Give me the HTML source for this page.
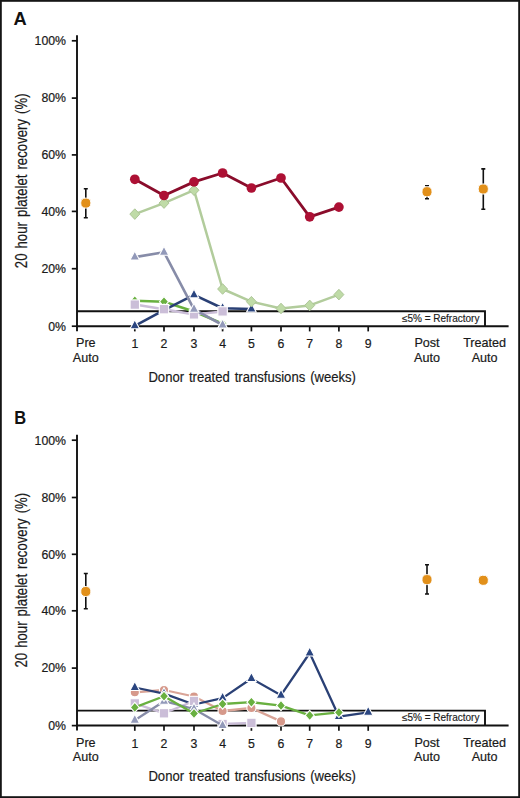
<!DOCTYPE html>
<html><head><meta charset="utf-8"><style>
html,body{margin:0;padding:0;background:#fff;}
body{width:520px;height:798px;overflow:hidden;font-family:"Liberation Sans", sans-serif;}
svg{display:block;}
</style></head><body>
<svg width="520" height="798" viewBox="0 0 520 798">
<rect x="0" y="0" width="520" height="798" fill="#fff"/>
<text x="13.4" y="24.8" font-size="18.3" font-weight="bold" font-family='"Liberation Sans", sans-serif' fill="#111">A</text><path d="M77.0 35.3V331.2" stroke="#111" stroke-width="1.9"/><path d="M71.8 40.8H77.0" stroke="#111" stroke-width="1.7"/><text x="66.0" y="45.1" font-size="12.3" text-anchor="end" font-family='"Liberation Sans", sans-serif' fill="#1a1a1a" stroke="#1a1a1a" stroke-width="0.2">100%</text><path d="M71.8 98.1H77.0" stroke="#111" stroke-width="1.7"/><text x="66.0" y="102.4" font-size="12.3" text-anchor="end" font-family='"Liberation Sans", sans-serif' fill="#1a1a1a" stroke="#1a1a1a" stroke-width="0.2">80%</text><path d="M71.8 154.9H77.0" stroke="#111" stroke-width="1.7"/><text x="66.0" y="159.2" font-size="12.3" text-anchor="end" font-family='"Liberation Sans", sans-serif' fill="#1a1a1a" stroke="#1a1a1a" stroke-width="0.2">60%</text><path d="M71.8 211.4H77.0" stroke="#111" stroke-width="1.7"/><text x="66.0" y="215.7" font-size="12.3" text-anchor="end" font-family='"Liberation Sans", sans-serif' fill="#1a1a1a" stroke="#1a1a1a" stroke-width="0.2">40%</text><path d="M71.8 268.7H77.0" stroke="#111" stroke-width="1.7"/><text x="66.0" y="273.0" font-size="12.3" text-anchor="end" font-family='"Liberation Sans", sans-serif' fill="#1a1a1a" stroke="#1a1a1a" stroke-width="0.2">20%</text><path d="M71.8 326.2H77.0" stroke="#111" stroke-width="1.7"/><text x="66.0" y="330.5" font-size="12.3" text-anchor="end" font-family='"Liberation Sans", sans-serif' fill="#1a1a1a" stroke="#1a1a1a" stroke-width="0.2">0%</text><path d="M76.0 326.2H508.6" stroke="#111" stroke-width="2"/><path d="M134.8 326.2V331.4" stroke="#111" stroke-width="1.7"/><text x="134.8" y="348.2" font-size="12.3" text-anchor="middle" font-family='"Liberation Sans", sans-serif' fill="#1a1a1a" stroke="#1a1a1a" stroke-width="0.2">1</text><path d="M164.0 326.2V331.4" stroke="#111" stroke-width="1.7"/><text x="164.0" y="348.2" font-size="12.3" text-anchor="middle" font-family='"Liberation Sans", sans-serif' fill="#1a1a1a" stroke="#1a1a1a" stroke-width="0.2">2</text><path d="M194.0 326.2V331.4" stroke="#111" stroke-width="1.7"/><text x="194.0" y="348.2" font-size="12.3" text-anchor="middle" font-family='"Liberation Sans", sans-serif' fill="#1a1a1a" stroke="#1a1a1a" stroke-width="0.2">3</text><path d="M222.6 326.2V331.4" stroke="#111" stroke-width="1.7"/><text x="222.6" y="348.2" font-size="12.3" text-anchor="middle" font-family='"Liberation Sans", sans-serif' fill="#1a1a1a" stroke="#1a1a1a" stroke-width="0.2">4</text><path d="M251.4 326.2V331.4" stroke="#111" stroke-width="1.7"/><text x="251.4" y="348.2" font-size="12.3" text-anchor="middle" font-family='"Liberation Sans", sans-serif' fill="#1a1a1a" stroke="#1a1a1a" stroke-width="0.2">5</text><path d="M281.0 326.2V331.4" stroke="#111" stroke-width="1.7"/><text x="281.0" y="348.2" font-size="12.3" text-anchor="middle" font-family='"Liberation Sans", sans-serif' fill="#1a1a1a" stroke="#1a1a1a" stroke-width="0.2">6</text><path d="M309.7 326.2V331.4" stroke="#111" stroke-width="1.7"/><text x="309.7" y="348.2" font-size="12.3" text-anchor="middle" font-family='"Liberation Sans", sans-serif' fill="#1a1a1a" stroke="#1a1a1a" stroke-width="0.2">7</text><path d="M338.9 326.2V331.4" stroke="#111" stroke-width="1.7"/><text x="338.9" y="348.2" font-size="12.3" text-anchor="middle" font-family='"Liberation Sans", sans-serif' fill="#1a1a1a" stroke="#1a1a1a" stroke-width="0.2">8</text><path d="M368.2 326.2V331.4" stroke="#111" stroke-width="1.7"/><text x="368.2" y="348.2" font-size="12.3" text-anchor="middle" font-family='"Liberation Sans", sans-serif' fill="#1a1a1a" stroke="#1a1a1a" stroke-width="0.2">9</text><text x="85.8" y="347.2" font-size="12.6" text-anchor="middle" font-family='"Liberation Sans", sans-serif' fill="#1a1a1a" stroke="#1a1a1a" stroke-width="0.2">Pre</text><text x="85.8" y="361.6" font-size="12.6" text-anchor="middle" font-family='"Liberation Sans", sans-serif' fill="#1a1a1a" stroke="#1a1a1a" stroke-width="0.2">Auto</text><text x="427.0" y="347.2" font-size="12.6" text-anchor="middle" font-family='"Liberation Sans", sans-serif' fill="#1a1a1a" stroke="#1a1a1a" stroke-width="0.2">Post</text><text x="427.0" y="361.6" font-size="12.6" text-anchor="middle" font-family='"Liberation Sans", sans-serif' fill="#1a1a1a" stroke="#1a1a1a" stroke-width="0.2">Auto</text><text x="484.6" y="347.2" font-size="12.6" text-anchor="middle" font-family='"Liberation Sans", sans-serif' fill="#1a1a1a" stroke="#1a1a1a" stroke-width="0.2">Treated</text><text x="484.6" y="361.6" font-size="12.6" text-anchor="middle" font-family='"Liberation Sans", sans-serif' fill="#1a1a1a" stroke="#1a1a1a" stroke-width="0.2">Auto</text><path d="M77.0 311.2H485.0V326.2" stroke="#111" stroke-width="1.9" fill="none"/><text x="479.4" y="321.6" font-size="10" text-anchor="end" font-family='"Liberation Sans", sans-serif' fill="#1a1a1a" stroke="#1a1a1a" stroke-width="0.15">≤5% = Refractory</text><text x="252.2" y="381.7" font-size="15.4" text-anchor="middle" font-family='"Liberation Sans", sans-serif' fill="#1a1a1a" stroke="#1a1a1a" stroke-width="0.2" word-spacing="1.5" transform="translate(252.2 0) scale(0.851 1) translate(-252.2 0)">Donor treated transfusions (weeks)</text><text x="0" y="0" font-size="15.6" text-anchor="middle" font-family='"Liberation Sans", sans-serif' fill="#1a1a1a" stroke="#1a1a1a" stroke-width="0.2" word-spacing="1.6" transform="translate(27.0 180.8) rotate(-90) scale(0.846 1)">20 hour platelet recovery (%)</text><polyline points="134.8,300.8 164.0,301.7 194.0,311.5 222.6,323.6" fill="none" stroke="#69b040" stroke-width="2.5" stroke-linejoin="round"/><path d="M134.8 295.7L139.3 300.8L134.8 305.9L130.3 300.8Z" fill="#69b040" stroke="#fff" stroke-width="1.1"/><path d="M164.0 296.6L168.5 301.7L164.0 306.8L159.5 301.7Z" fill="#69b040" stroke="#fff" stroke-width="1.1"/><path d="M194.0 306.4L198.5 311.5L194.0 316.6L189.5 311.5Z" fill="#69b040" stroke="#fff" stroke-width="1.1"/><path d="M222.6 318.5L227.1 323.6L222.6 328.7L218.1 323.6Z" fill="#69b040" stroke="#fff" stroke-width="1.1"/><polyline points="134.8,325.8 164.0,310.1 194.0,294.9 222.6,308.3 251.4,309.0" fill="none" stroke="#2a4075" stroke-width="2.6" stroke-linejoin="round"/><path d="M134.8 319.8L139.6 328.8L130.0 328.8Z" fill="#2a4580" stroke="#fff" stroke-width="1.1"/><path d="M164.0 304.1L168.8 313.1L159.2 313.1Z" fill="#2a4580" stroke="#fff" stroke-width="1.1"/><path d="M194.0 288.9L198.8 297.9L189.2 297.9Z" fill="#2a4580" stroke="#fff" stroke-width="1.1"/><path d="M222.6 302.3L227.4 311.3L217.8 311.3Z" fill="#2a4580" stroke="#fff" stroke-width="1.1"/><path d="M251.4 303.0L256.2 312.0L246.6 312.0Z" fill="#2a4580" stroke="#fff" stroke-width="1.1"/><polyline points="134.8,304.6 164.0,309.2 194.0,314.4 222.6,311.4" fill="none" stroke="#cbbed8" stroke-width="2.5" stroke-linejoin="round"/><rect x="130.1" y="299.9" width="9.4" height="9.4" fill="#cbbed8" stroke="#fff" stroke-width="1.1"/><rect x="159.3" y="304.5" width="9.4" height="9.4" fill="#cbbed8" stroke="#fff" stroke-width="1.1"/><rect x="189.3" y="309.7" width="9.4" height="9.4" fill="#cbbed8" stroke="#fff" stroke-width="1.1"/><rect x="217.9" y="306.7" width="9.4" height="9.4" fill="#cbbed8" stroke="#fff" stroke-width="1.1"/><polyline points="134.8,257.1 164.0,252.2 194.0,309.3 222.6,325.0" fill="none" stroke="#878ca8" stroke-width="2.6" stroke-linejoin="round"/><path d="M134.8 251.1L139.6 260.1L130.0 260.1Z" fill="#9299b9" stroke="#fff" stroke-width="1.1"/><path d="M164.0 246.2L168.8 255.2L159.2 255.2Z" fill="#9299b9" stroke="#fff" stroke-width="1.1"/><path d="M194.0 303.3L198.8 312.3L189.2 312.3Z" fill="#9299b9" stroke="#fff" stroke-width="1.1"/><path d="M222.6 319.0L227.4 328.0L217.8 328.0Z" fill="#9299b9" stroke="#fff" stroke-width="1.1"/><polyline points="134.8,214.1 164.0,203.1 194.0,190.2 222.6,289.0 251.4,301.7 281.0,308.5 309.7,305.4 338.9,294.6" fill="none" stroke="#b2cc9c" stroke-width="2.5" stroke-linejoin="round"/><path d="M134.8 208.8L139.8 214.1L134.8 219.4L129.8 214.1Z" fill="#bfdba7" stroke="#a8c292" stroke-width="0.9"/><path d="M164.0 197.8L169.0 203.1L164.0 208.4L159.0 203.1Z" fill="#bfdba7" stroke="#a8c292" stroke-width="0.9"/><path d="M194.0 184.9L199.0 190.2L194.0 195.5L189.0 190.2Z" fill="#bfdba7" stroke="#a8c292" stroke-width="0.9"/><path d="M222.6 283.7L227.6 289.0L222.6 294.3L217.6 289.0Z" fill="#bfdba7" stroke="#a8c292" stroke-width="0.9"/><path d="M251.4 296.4L256.4 301.7L251.4 307.0L246.4 301.7Z" fill="#bfdba7" stroke="#a8c292" stroke-width="0.9"/><path d="M281.0 303.2L286.0 308.5L281.0 313.8L276.0 308.5Z" fill="#bfdba7" stroke="#a8c292" stroke-width="0.9"/><path d="M309.7 300.1L314.7 305.4L309.7 310.7L304.7 305.4Z" fill="#bfdba7" stroke="#a8c292" stroke-width="0.9"/><path d="M338.9 289.3L343.9 294.6L338.9 299.9L333.9 294.6Z" fill="#bfdba7" stroke="#a8c292" stroke-width="0.9"/><polyline points="134.8,179.3 164.0,195.5 194.0,181.9 222.6,173.0 251.4,188.0 281.0,178.0 309.7,216.8 338.9,207.1" fill="none" stroke="#8a0c2b" stroke-width="2.8" stroke-linejoin="round"/><circle cx="134.8" cy="179.3" r="4.85" fill="#ad1034"/><circle cx="164.0" cy="195.5" r="4.85" fill="#ad1034"/><circle cx="194.0" cy="181.9" r="4.85" fill="#ad1034"/><circle cx="222.6" cy="173.0" r="4.85" fill="#ad1034"/><circle cx="251.4" cy="188.0" r="4.85" fill="#ad1034"/><circle cx="281.0" cy="178.0" r="4.85" fill="#ad1034"/><circle cx="309.7" cy="216.8" r="4.85" fill="#ad1034"/><circle cx="338.9" cy="207.1" r="4.85" fill="#ad1034"/><path d="M85.8 188.8V217.7M83.8 188.8H87.8M83.8 217.7H87.8" stroke="#111" stroke-width="1.6" fill="none"/><rect x="80.8" y="198.1" width="10.0" height="10.0" rx="4.3" fill="#E2901A" stroke="#fff" stroke-width="1"/><path d="M427.0 185.8V198.7M425.0 185.8H429.0M425.0 198.7H429.0" stroke="#111" stroke-width="1.6" fill="none"/><rect x="422.0" y="186.7" width="10.0" height="10.0" rx="4.3" fill="#E2901A" stroke="#fff" stroke-width="1"/><path d="M483.3 168.9V209.3M481.3 168.9H485.3M481.3 209.3H485.3" stroke="#111" stroke-width="1.6" fill="none"/><rect x="478.3" y="184.0" width="10.0" height="10.0" rx="4.3" fill="#E2901A" stroke="#fff" stroke-width="1"/>
<text x="0" y="0" font-size="18.3" font-weight="bold" font-family='"Liberation Sans", sans-serif' fill="#111" transform="translate(14.2 423.9) scale(0.9 1)">B</text><path d="M77.0 434.7V730.6" stroke="#111" stroke-width="1.9"/><path d="M71.8 440.2H77.0" stroke="#111" stroke-width="1.7"/><text x="66.0" y="444.5" font-size="12.3" text-anchor="end" font-family='"Liberation Sans", sans-serif' fill="#1a1a1a" stroke="#1a1a1a" stroke-width="0.2">100%</text><path d="M71.8 497.5H77.0" stroke="#111" stroke-width="1.7"/><text x="66.0" y="501.8" font-size="12.3" text-anchor="end" font-family='"Liberation Sans", sans-serif' fill="#1a1a1a" stroke="#1a1a1a" stroke-width="0.2">80%</text><path d="M71.8 554.3H77.0" stroke="#111" stroke-width="1.7"/><text x="66.0" y="558.6" font-size="12.3" text-anchor="end" font-family='"Liberation Sans", sans-serif' fill="#1a1a1a" stroke="#1a1a1a" stroke-width="0.2">60%</text><path d="M71.8 610.8H77.0" stroke="#111" stroke-width="1.7"/><text x="66.0" y="615.1" font-size="12.3" text-anchor="end" font-family='"Liberation Sans", sans-serif' fill="#1a1a1a" stroke="#1a1a1a" stroke-width="0.2">40%</text><path d="M71.8 668.1H77.0" stroke="#111" stroke-width="1.7"/><text x="66.0" y="672.4" font-size="12.3" text-anchor="end" font-family='"Liberation Sans", sans-serif' fill="#1a1a1a" stroke="#1a1a1a" stroke-width="0.2">20%</text><path d="M71.8 725.6H77.0" stroke="#111" stroke-width="1.7"/><text x="66.0" y="729.9" font-size="12.3" text-anchor="end" font-family='"Liberation Sans", sans-serif' fill="#1a1a1a" stroke="#1a1a1a" stroke-width="0.2">0%</text><path d="M76.0 725.6H508.6" stroke="#111" stroke-width="2"/><path d="M134.8 725.6V730.8" stroke="#111" stroke-width="1.7"/><text x="134.8" y="747.6" font-size="12.3" text-anchor="middle" font-family='"Liberation Sans", sans-serif' fill="#1a1a1a" stroke="#1a1a1a" stroke-width="0.2">1</text><path d="M164.0 725.6V730.8" stroke="#111" stroke-width="1.7"/><text x="164.0" y="747.6" font-size="12.3" text-anchor="middle" font-family='"Liberation Sans", sans-serif' fill="#1a1a1a" stroke="#1a1a1a" stroke-width="0.2">2</text><path d="M194.0 725.6V730.8" stroke="#111" stroke-width="1.7"/><text x="194.0" y="747.6" font-size="12.3" text-anchor="middle" font-family='"Liberation Sans", sans-serif' fill="#1a1a1a" stroke="#1a1a1a" stroke-width="0.2">3</text><path d="M222.6 725.6V730.8" stroke="#111" stroke-width="1.7"/><text x="222.6" y="747.6" font-size="12.3" text-anchor="middle" font-family='"Liberation Sans", sans-serif' fill="#1a1a1a" stroke="#1a1a1a" stroke-width="0.2">4</text><path d="M251.4 725.6V730.8" stroke="#111" stroke-width="1.7"/><text x="251.4" y="747.6" font-size="12.3" text-anchor="middle" font-family='"Liberation Sans", sans-serif' fill="#1a1a1a" stroke="#1a1a1a" stroke-width="0.2">5</text><path d="M281.0 725.6V730.8" stroke="#111" stroke-width="1.7"/><text x="281.0" y="747.6" font-size="12.3" text-anchor="middle" font-family='"Liberation Sans", sans-serif' fill="#1a1a1a" stroke="#1a1a1a" stroke-width="0.2">6</text><path d="M309.7 725.6V730.8" stroke="#111" stroke-width="1.7"/><text x="309.7" y="747.6" font-size="12.3" text-anchor="middle" font-family='"Liberation Sans", sans-serif' fill="#1a1a1a" stroke="#1a1a1a" stroke-width="0.2">7</text><path d="M338.9 725.6V730.8" stroke="#111" stroke-width="1.7"/><text x="338.9" y="747.6" font-size="12.3" text-anchor="middle" font-family='"Liberation Sans", sans-serif' fill="#1a1a1a" stroke="#1a1a1a" stroke-width="0.2">8</text><path d="M368.2 725.6V730.8" stroke="#111" stroke-width="1.7"/><text x="368.2" y="747.6" font-size="12.3" text-anchor="middle" font-family='"Liberation Sans", sans-serif' fill="#1a1a1a" stroke="#1a1a1a" stroke-width="0.2">9</text><text x="85.8" y="746.6" font-size="12.6" text-anchor="middle" font-family='"Liberation Sans", sans-serif' fill="#1a1a1a" stroke="#1a1a1a" stroke-width="0.2">Pre</text><text x="85.8" y="761.0" font-size="12.6" text-anchor="middle" font-family='"Liberation Sans", sans-serif' fill="#1a1a1a" stroke="#1a1a1a" stroke-width="0.2">Auto</text><text x="427.0" y="746.6" font-size="12.6" text-anchor="middle" font-family='"Liberation Sans", sans-serif' fill="#1a1a1a" stroke="#1a1a1a" stroke-width="0.2">Post</text><text x="427.0" y="761.0" font-size="12.6" text-anchor="middle" font-family='"Liberation Sans", sans-serif' fill="#1a1a1a" stroke="#1a1a1a" stroke-width="0.2">Auto</text><text x="484.6" y="746.6" font-size="12.6" text-anchor="middle" font-family='"Liberation Sans", sans-serif' fill="#1a1a1a" stroke="#1a1a1a" stroke-width="0.2">Treated</text><text x="484.6" y="761.0" font-size="12.6" text-anchor="middle" font-family='"Liberation Sans", sans-serif' fill="#1a1a1a" stroke="#1a1a1a" stroke-width="0.2">Auto</text><path d="M77.0 710.6H485.0V725.6" stroke="#111" stroke-width="1.9" fill="none"/><text x="479.4" y="721.0" font-size="10" text-anchor="end" font-family='"Liberation Sans", sans-serif' fill="#1a1a1a" stroke="#1a1a1a" stroke-width="0.15">≤5% = Refractory</text><text x="252.2" y="781.1" font-size="15.4" text-anchor="middle" font-family='"Liberation Sans", sans-serif' fill="#1a1a1a" stroke="#1a1a1a" stroke-width="0.2" word-spacing="1.5" transform="translate(252.2 0) scale(0.851 1) translate(-252.2 0)">Donor treated transfusions (weeks)</text><text x="0" y="0" font-size="15.6" text-anchor="middle" font-family='"Liberation Sans", sans-serif' fill="#1a1a1a" stroke="#1a1a1a" stroke-width="0.2" word-spacing="1.6" transform="translate(27.0 580.2) rotate(-90) scale(0.846 1)">20 hour platelet recovery (%)</text><polyline points="134.8,692.3 164.0,690.0 194.0,696.5 222.6,711.0 251.4,708.0 281.0,721.4" fill="none" stroke="#d9a497" stroke-width="2.3" stroke-linejoin="round"/><circle cx="134.8" cy="692.3" r="4.6" fill="#d6998b" stroke="#fff" stroke-width="1.1"/><circle cx="164.0" cy="690.0" r="4.6" fill="#d6998b" stroke="#fff" stroke-width="1.1"/><circle cx="194.0" cy="696.5" r="4.6" fill="#d6998b" stroke="#fff" stroke-width="1.1"/><circle cx="222.6" cy="711.0" r="4.6" fill="#d6998b" stroke="#fff" stroke-width="1.1"/><circle cx="251.4" cy="708.0" r="4.6" fill="#d6998b" stroke="#fff" stroke-width="1.1"/><circle cx="281.0" cy="721.4" r="4.6" fill="#d6998b" stroke="#fff" stroke-width="1.1"/><polyline points="134.8,687.5 164.0,693.7 194.0,704.5 222.6,698.1 251.4,678.5 281.0,695.2 309.7,653.0 338.9,716.6 368.2,712.3" fill="none" stroke="#2a4075" stroke-width="2.3" stroke-linejoin="round"/><path d="M134.8 681.5L139.6 690.5L130.0 690.5Z" fill="#2a4580" stroke="#fff" stroke-width="1.1"/><path d="M164.0 687.7L168.8 696.7L159.2 696.7Z" fill="#2a4580" stroke="#fff" stroke-width="1.1"/><path d="M194.0 698.5L198.8 707.5L189.2 707.5Z" fill="#2a4580" stroke="#fff" stroke-width="1.1"/><path d="M222.6 692.1L227.4 701.1L217.8 701.1Z" fill="#2a4580" stroke="#fff" stroke-width="1.1"/><path d="M251.4 672.5L256.2 681.5L246.6 681.5Z" fill="#2a4580" stroke="#fff" stroke-width="1.1"/><path d="M281.0 689.2L285.8 698.2L276.2 698.2Z" fill="#2a4580" stroke="#fff" stroke-width="1.1"/><path d="M309.7 647.0L314.5 656.0L304.9 656.0Z" fill="#2a4580" stroke="#fff" stroke-width="1.1"/><path d="M338.9 710.6L343.7 719.6L334.1 719.6Z" fill="#2a4580" stroke="#fff" stroke-width="1.1"/><path d="M368.2 706.3L373.0 715.3L363.4 715.3Z" fill="#2a4580" stroke="#fff" stroke-width="1.1"/><polyline points="134.8,703.4 164.0,713.3 194.0,701.0" fill="none" stroke="#cbbed8" stroke-width="2.3" stroke-linejoin="round"/><polyline points="222.6,724.0 251.4,722.9" fill="none" stroke="#cbbed8" stroke-width="2.3" stroke-linejoin="round"/><rect x="130.1" y="698.7" width="9.4" height="9.4" fill="#cbbed8" stroke="#fff" stroke-width="1.1"/><rect x="159.3" y="708.6" width="9.4" height="9.4" fill="#cbbed8" stroke="#fff" stroke-width="1.1"/><rect x="189.3" y="696.3" width="9.4" height="9.4" fill="#cbbed8" stroke="#fff" stroke-width="1.1"/><rect x="217.9" y="719.3" width="9.4" height="9.4" fill="#cbbed8" stroke="#fff" stroke-width="1.1"/><rect x="246.7" y="718.2" width="9.4" height="9.4" fill="#cbbed8" stroke="#fff" stroke-width="1.1"/><polyline points="134.8,720.3 164.0,701.2 194.0,709.0 222.6,725.5" fill="none" stroke="#878ca8" stroke-width="2.3" stroke-linejoin="round"/><path d="M134.8 714.3L139.6 723.3L130.0 723.3Z" fill="#9299b9" stroke="#fff" stroke-width="1.1"/><path d="M164.0 695.2L168.8 704.2L159.2 704.2Z" fill="#9299b9" stroke="#fff" stroke-width="1.1"/><path d="M194.0 703.0L198.8 712.0L189.2 712.0Z" fill="#9299b9" stroke="#fff" stroke-width="1.1"/><path d="M222.6 719.5L227.4 728.5L217.8 728.5Z" fill="#9299b9" stroke="#fff" stroke-width="1.1"/><polyline points="134.8,707.4 164.0,696.2 194.0,713.5 222.6,704.0 251.4,702.2 281.0,705.6 309.7,715.4 338.9,712.4" fill="none" stroke="#69b040" stroke-width="2.3" stroke-linejoin="round"/><path d="M134.8 702.3L139.3 707.4L134.8 712.5L130.3 707.4Z" fill="#69b040" stroke="#fff" stroke-width="1.1"/><path d="M164.0 691.1L168.5 696.2L164.0 701.3L159.5 696.2Z" fill="#69b040" stroke="#fff" stroke-width="1.1"/><path d="M194.0 708.4L198.5 713.5L194.0 718.6L189.5 713.5Z" fill="#69b040" stroke="#fff" stroke-width="1.1"/><path d="M222.6 698.9L227.1 704.0L222.6 709.1L218.1 704.0Z" fill="#69b040" stroke="#fff" stroke-width="1.1"/><path d="M251.4 697.1L255.9 702.2L251.4 707.3L246.9 702.2Z" fill="#69b040" stroke="#fff" stroke-width="1.1"/><path d="M281.0 700.5L285.5 705.6L281.0 710.7L276.5 705.6Z" fill="#69b040" stroke="#fff" stroke-width="1.1"/><path d="M309.7 710.3L314.2 715.4L309.7 720.5L305.2 715.4Z" fill="#69b040" stroke="#fff" stroke-width="1.1"/><path d="M338.9 707.3L343.4 712.4L338.9 717.5L334.4 712.4Z" fill="#69b040" stroke="#fff" stroke-width="1.1"/><path d="M85.8 573.5V608.7M83.8 573.5H87.8M83.8 608.7H87.8" stroke="#111" stroke-width="1.6" fill="none"/><rect x="80.8" y="586.5" width="10.0" height="10.0" rx="4.3" fill="#E2901A" stroke="#fff" stroke-width="1"/><path d="M427.0 564.8V594.0M425.0 564.8H429.0M425.0 594.0H429.0" stroke="#111" stroke-width="1.6" fill="none"/><rect x="422.0" y="574.6" width="10.0" height="10.0" rx="4.3" fill="#E2901A" stroke="#fff" stroke-width="1"/><rect x="478.3" y="575.3" width="10.0" height="10.0" rx="4.3" fill="#E2901A" stroke="#fff" stroke-width="1"/>
<rect x="0.9" y="0.9" width="518.2" height="796.2" fill="none" stroke="#151515" stroke-width="1.8"/>
</svg>
</body></html>
